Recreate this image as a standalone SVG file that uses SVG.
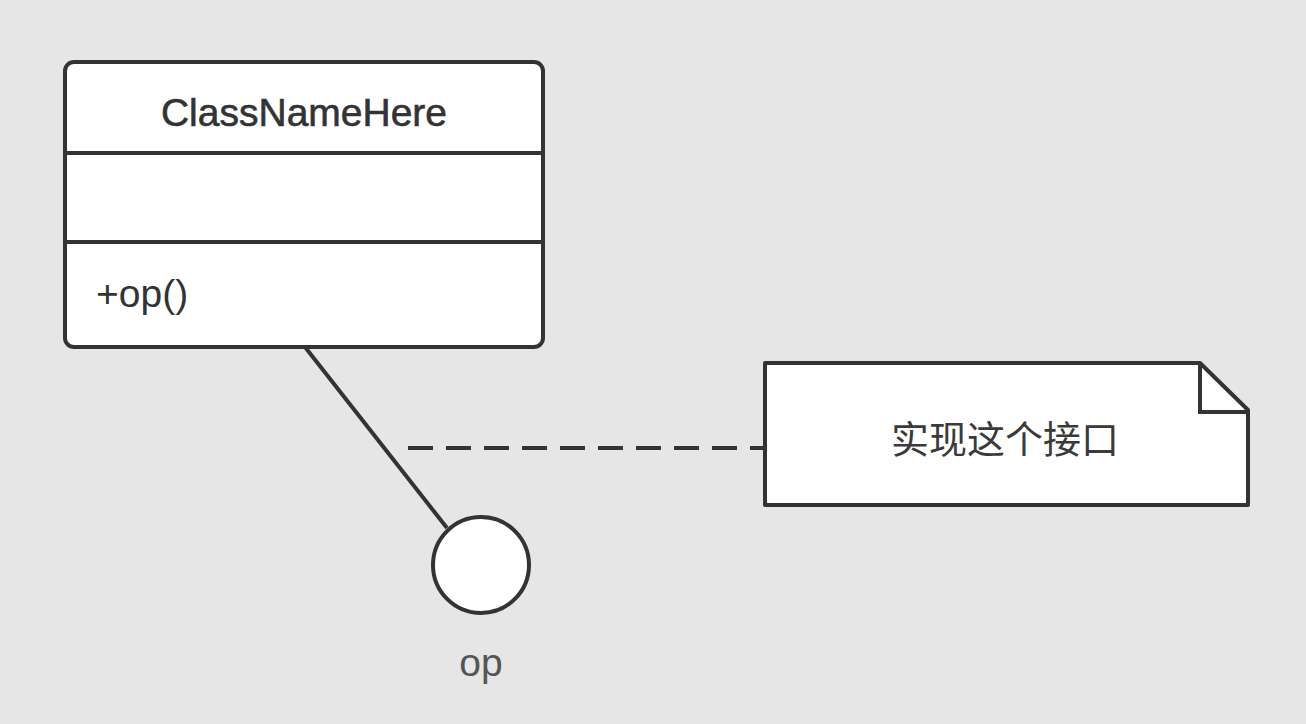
<svg xmlns="http://www.w3.org/2000/svg" width="1306" height="724" viewBox="0 0 1306 724">
<style>
.shape{fill:#ffffff;stroke:#333333;stroke-width:4;stroke-linejoin:round}
.line{fill:none;stroke:#333333;stroke-width:4}
.dash{fill:none;stroke:#333333;stroke-width:4;stroke-dasharray:25 13}
.txt{font-family:"Liberation Sans","Noto Sans CJK SC",sans-serif;font-size:39px;fill:#333333}
.cjk{font-family:"Noto Sans CJK SC","Liberation Sans",sans-serif;font-size:38px;fill:#3a3a3a}
.label{font-family:"Liberation Sans","Noto Sans CJK SC",sans-serif;font-size:39px;fill:#555555}
</style>
<rect x="0" y="0" width="1306" height="724" fill="#e6e6e6"/>
<g id="connectors">
<line class="line" x1="305" y1="347" x2="447" y2="528"/>
<line class="dash" x1="408" y1="448" x2="765" y2="448"/>
</g>
<g id="class-node">
<rect class="shape" x="65" y="62" width="478" height="285" rx="9" ry="9"/>
<line class="line" x1="65" y1="153" x2="543" y2="153"/>
<line class="line" x1="65" y1="242" x2="543" y2="242"/>
<text class="txt" x="304" y="126" text-anchor="middle" font-size="40" stroke="#333333" stroke-width="0.6">ClassNameHere</text>
<text class="txt" x="96" y="307">+op()</text>
</g>
<g id="interface-node">
<circle class="shape" cx="481" cy="565" r="48"/>
<text class="label" x="481" y="676" text-anchor="middle">op</text>
</g>
<g id="note-node">
<path class="shape" d="M765,363 L1200,363 L1248,410 L1248,505 L765,505 Z"/>
<path class="line" d="M1200,363 L1200,412 L1248,412" stroke-linejoin="miter"/>
<text class="cjk" x="1005" y="453" text-anchor="middle">实现这个接口</text>
</g>
</svg>
